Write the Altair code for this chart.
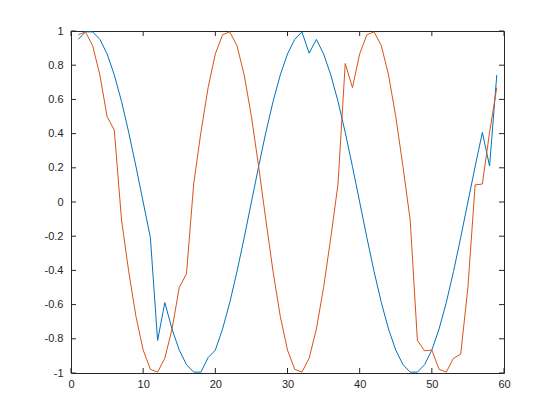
import altair as alt
import pandas as pd

x_vals = list(range(1, 60))
blue = [0.951, 0.995, 0.995, 0.951, 0.866, 0.743, 0.588, 0.407, 0.208, 0.0,
        -0.208, -0.81, -0.588, -0.743, -0.866, -0.951, -0.995, -0.995, -0.91, -0.866,
        -0.743, -0.588, -0.407, -0.208, 0.0, 0.208, 0.407, 0.588, 0.743, 0.866,
        0.951, 0.995, 0.87, 0.951, 0.866, 0.743, 0.588, 0.407, 0.208, 0.0,
        -0.208, -0.407, -0.588, -0.743, -0.866, -0.951, -0.995, -0.995, -0.951, -0.866,
        -0.743, -0.588, -0.407, -0.208, 0.0, 0.208, 0.407, 0.21, 0.743]
orange = [0.978, 0.995, 0.914, 0.743, 0.5, 0.42, -0.105, -0.407, -0.669, -0.866,
          -0.978, -0.995, -0.914, -0.743, -0.5, -0.42, 0.105, 0.407, 0.669, 0.866,
          0.978, 0.995, 0.914, 0.743, 0.5, 0.208, -0.105, -0.407, -0.669, -0.866,
          -0.978, -0.995, -0.914, -0.743, -0.5, -0.208, 0.105, 0.81, 0.669, 0.866,
          0.978, 0.995, 0.914, 0.743, 0.5, 0.208, -0.105, -0.81, -0.87, -0.866,
          -0.978, -0.995, -0.914, -0.89, -0.5, 0.1, 0.105, 0.407, 0.669]

x_ticks = [0, 10, 20, 30, 40, 50, 60]
y_ticks = [-1, -0.8, -0.6, -0.4, -0.2, 0, 0.2, 0.4, 0.6, 0.8, 1]
series_names = ["s1", "s2"]
series_colors = ["#0072BD", "#D95319"]

W, H = 433, 342
TICK = 5

df = pd.DataFrame({
    "x": x_vals + x_vals,
    "y": blue + orange,
    "s": [series_names[0]] * len(x_vals) + [series_names[1]] * len(x_vals),
})
xt = pd.DataFrame({"t": x_ticks})
yt = pd.DataFrame({"t": y_ticks})

xs = alt.Scale(domain=[0, 60], nice=False, zero=False)
ys = alt.Scale(domain=[-1, 1], nice=False, zero=False)
ink = "#262626"
label_expr = "replace(format(datum.value, '~g'), '\u2212', '-')"

x_axis = alt.Axis(orient="bottom", values=x_ticks, ticks=False, domain=False,
                  labelPadding=5, title=None, grid=False, labelExpr=label_expr,
                  labelOverlap=False, labelFlush=False)
y_axis = alt.Axis(orient="left", values=y_ticks, ticks=False, domain=False,
                  labelPadding=8, title=None, grid=False, labelExpr=label_expr,
                  labelOverlap=False, labelFlush=False)

main = alt.Chart(df).mark_line(strokeWidth=1, clip=True).encode(
    x=alt.X("x:Q", scale=xs, axis=x_axis, title=None),
    y=alt.Y("y:Q", scale=ys, axis=y_axis, title=None),
    color=alt.Color("s:N", scale=alt.Scale(domain=series_names, range=series_colors),
                    legend=None),
    detail="s:N",
)

tick_style = dict(color=ink, strokeWidth=1)
x_bottom = alt.Chart(xt).mark_rule(**tick_style).encode(
    x=alt.X("t:Q", scale=xs, axis=x_axis, title=None), y=alt.value(H), y2=alt.value(H - TICK))
x_top = alt.Chart(xt).mark_rule(**tick_style).encode(
    x=alt.X("t:Q", scale=xs, axis=x_axis, title=None), y=alt.value(0), y2=alt.value(TICK))
y_left = alt.Chart(yt).mark_rule(**tick_style).encode(
    y=alt.Y("t:Q", scale=ys, axis=y_axis, title=None), x=alt.value(0), x2=alt.value(TICK))
y_right = alt.Chart(yt).mark_rule(**tick_style).encode(
    y=alt.Y("t:Q", scale=ys, axis=y_axis, title=None), x=alt.value(W), x2=alt.value(W - TICK))

chart = alt.layer(main, x_bottom, x_top, y_left, y_right).properties(
    width=W, height=H,
    autosize=alt.AutoSizeParams(type="none"),
    padding={"left": 63, "top": 23, "right": 30, "bottom": 35},
    background="white",
).configure_axis(
    labelFont="Liberation Sans",
    labelFontSize=11,
    labelColor=ink,
).configure_view(stroke=ink, strokeWidth=1)

chart.save("out.html", embed_options={"renderer": "svg", "actions": False})
